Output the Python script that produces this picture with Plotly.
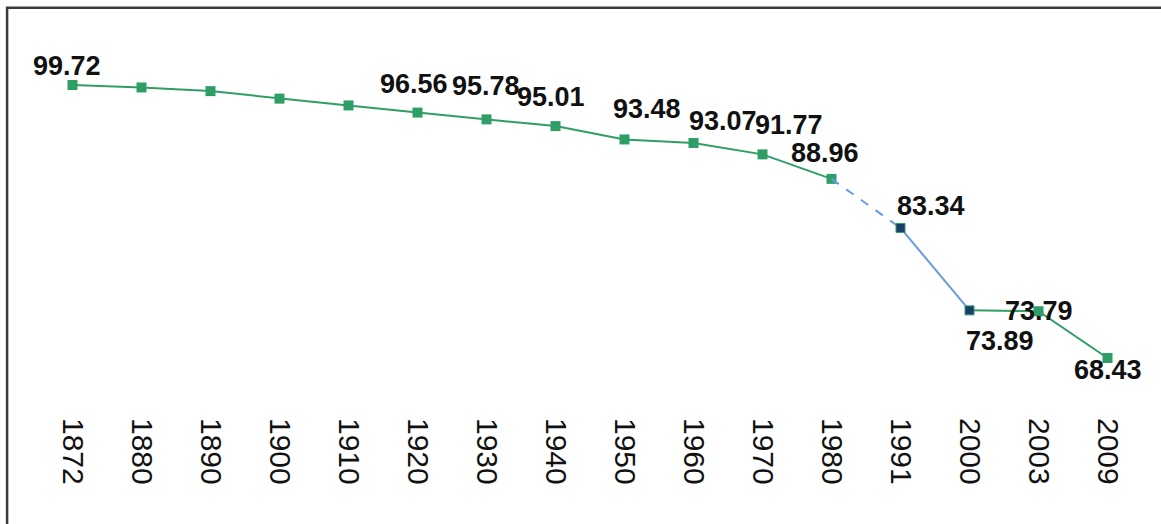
import plotly.graph_objects as go

years = ["1872", "1880", "1890", "1900", "1910", "1920", "1930", "1940",
         "1950", "1960", "1970", "1980", "1991", "2000", "2003", "2009"]
values = [99.72, 99.44, 99.02, 98.16, 97.38, 96.56, 95.78, 95.01,
          93.48, 93.07, 91.77, 88.96, 83.34, 73.89, 73.79, 68.43]
labeled_years = ["1872", "1920", "1930", "1940", "1950", "1960", "1970",
                 "1980", "1991", "2000", "2003", "2009"]

# label offsets in pixels (style only)
label_shift = {
    "1872": (-6, 19), "1920": (-4, 29), "1930": (-1, 33), "1940": (-5, 29),
    "1950": (22, 30), "1960": (29, 22), "1970": (26, 29), "1980": (-7, 26),
    "1991": (30, 22), "2000": (30, -31), "2003": (0, 0), "2009": (0, -12),
}

GREEN = "#2f9e66"
BLUE = "#6a9ae0"
NAVY = "#1d3c6b"

i1980 = years.index("1980")
i1991 = years.index("1991")
i2000 = years.index("2000")

fig = go.Figure()
fig.add_trace(go.Scatter(x=years[:i1980 + 1], y=values[:i1980 + 1], mode="lines+markers",
                         line=dict(color=GREEN, width=2),
                         marker=dict(symbol="square", size=10, color=GREEN),
                         hoverinfo="skip"))
fig.add_trace(go.Scatter(x=years[i1980:i1991 + 1], y=values[i1980:i1991 + 1], mode="lines",
                         line=dict(color=BLUE, width=2, dash="dash"), hoverinfo="skip"))
fig.add_trace(go.Scatter(x=years[i1991:i2000 + 1], y=values[i1991:i2000 + 1], mode="lines",
                         line=dict(color=BLUE, width=2), hoverinfo="skip"))
fig.add_trace(go.Scatter(x=years[i2000:], y=values[i2000:], mode="lines",
                         line=dict(color=GREEN, width=2), hoverinfo="skip"))
fig.add_trace(go.Scatter(x=years[i2000 + 1:], y=values[i2000 + 1:], mode="markers",
                         marker=dict(symbol="square", size=10, color=GREEN),
                         hoverinfo="skip"))
fig.add_trace(go.Scatter(x=years[i1991:i2000 + 1], y=values[i1991:i2000 + 1], mode="markers",
                         marker=dict(symbol="square", size=9, color=NAVY,
                                     line=dict(color=GREEN, width=1)),
                         hoverinfo="skip"))

for yr in labeled_years:
    idx = years.index(yr)
    v = values[idx]
    dx, dy = label_shift[yr]
    fig.add_annotation(x=idx, y=v, text=f"<b>{v:.2f}</b>", showarrow=False,
                       xshift=dx, yshift=dy,
                       font=dict(family="Liberation Sans, Arial", size=27, color="#111111"))

# frame border (partially cropped in the reference)
fig.add_shape(type="rect", xref="paper", yref="paper",
              x0=-0.028, x1=1.1, y0=-0.6, y1=1.087,
              line=dict(color="#3a3a3a", width=2.5), layer="above")

fig.update_layout(
    width=1161, height=524,
    margin=dict(l=37.5, r=18.5, t=40, b=112),
    paper_bgcolor="white", plot_bgcolor="white",
    showlegend=False,
    xaxis=dict(type="category", showgrid=False, zeroline=False, showline=False,
               ticks="", tickangle=90, automargin=False, range=[-0.5, 15.5],
               ticklabelstandoff=5,
               tickfont=dict(family="Liberation Sans, Arial", size=30, color="#111111")),
    yaxis=dict(visible=False, range=[62.24, 104.88], showgrid=False, zeroline=False),
)

fig.write_html("out.html", config={"displayModeBar": False},
               post_script="document.body.style.margin='0';document.body.style.overflow='hidden';")
